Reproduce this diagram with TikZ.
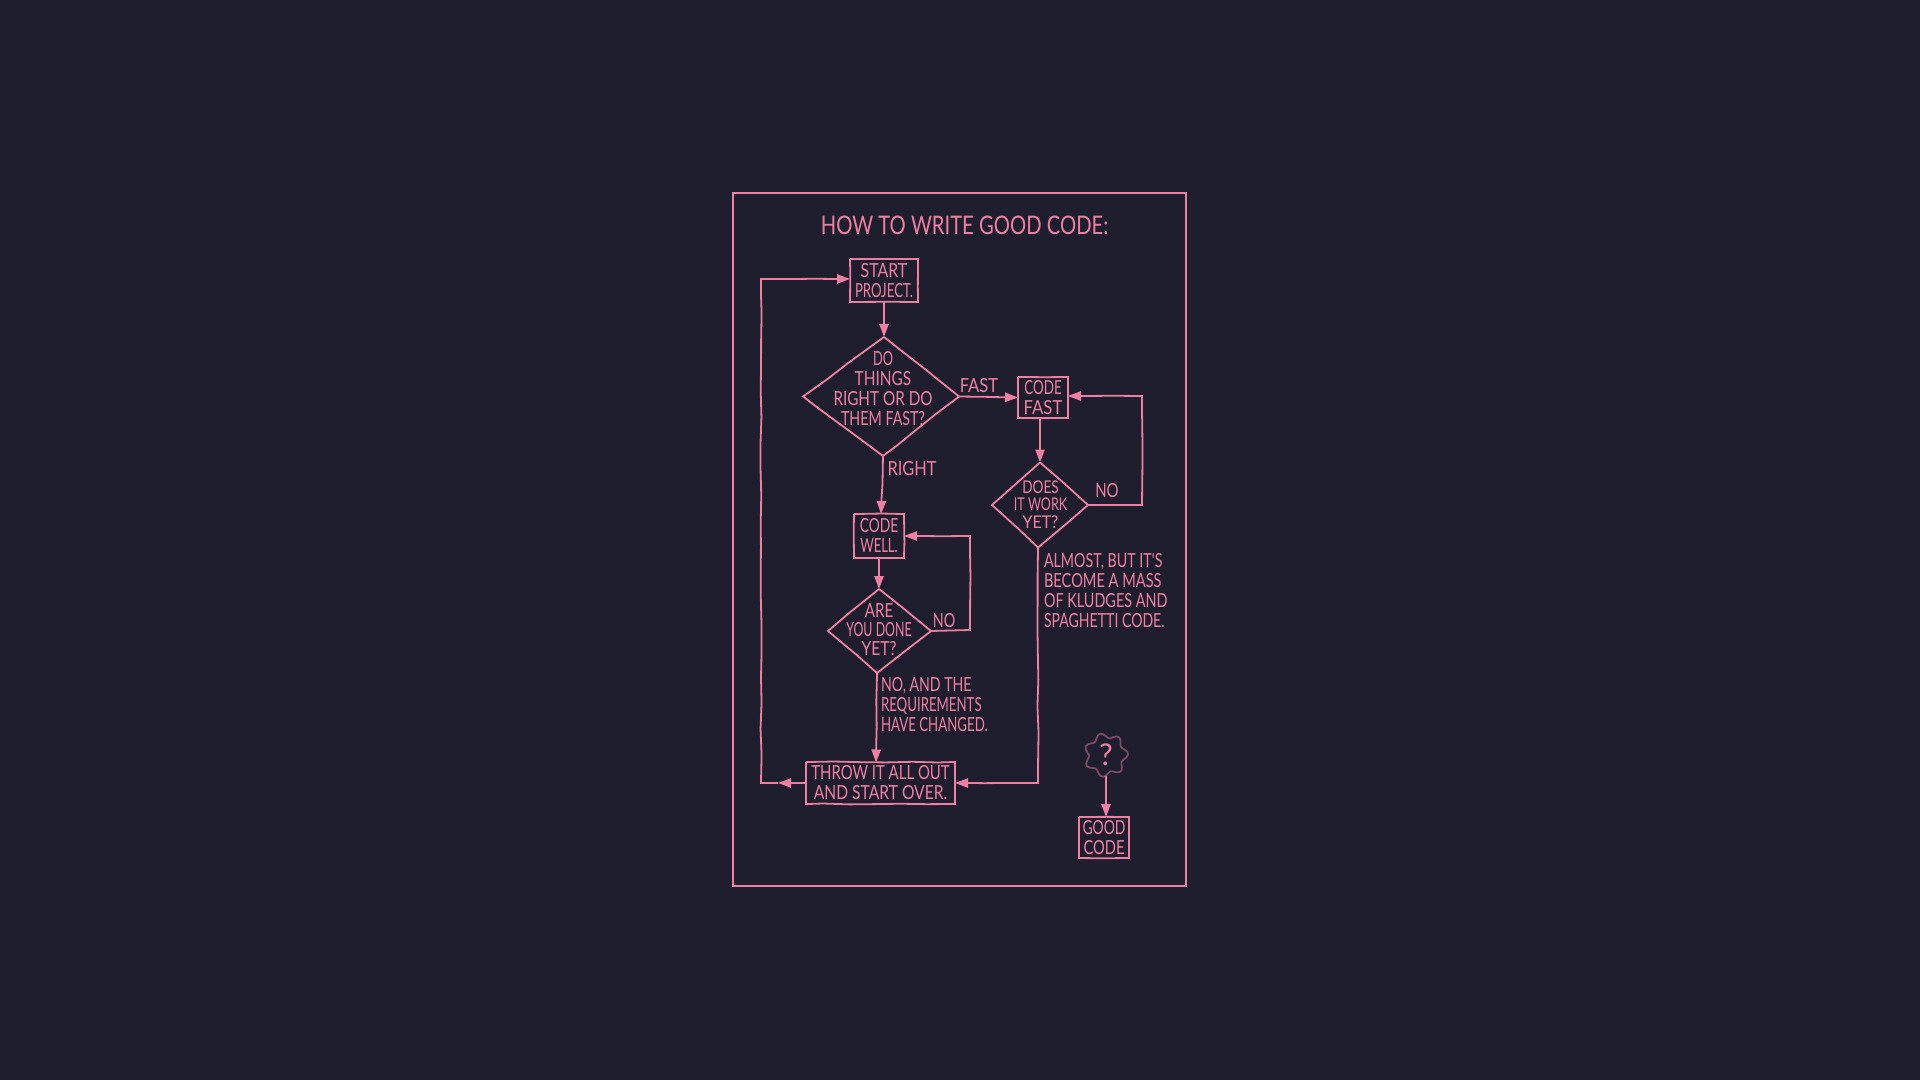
\documentclass[tikz,border=0pt]{standalone}
\usepackage{fontspec}
\usepackage{graphicx}
\usetikzlibrary{shapes.geometric,arrows.meta,decorations.pathmorphing}
\newfontfamily\hand{Lato}
\definecolor{bgcol}{HTML}{1E1E2E}
\definecolor{ink}{HTML}{F07FA3}
\definecolor{dimink}{HTML}{7F4C68}
% a line of lettering set to a measured width (in pt), natural height
\newcommand{\fl}[2]{\resizebox{#1pt}{\height}{#2}}
\newcommand{\sketchbox}[1]{\draw[wire] (#1.north west) decorate{-- (#1.north east)} decorate{-- (#1.south east)} decorate{-- (#1.south west)} decorate{-- (#1.north west)};}
% a diamond whose top and bottom points lean a little to the right or left
\newcommand{\sketchdiamond}[3]{%
  \coordinate (#1top) at ([xshift=#2pt]#1.north);
  \coordinate (#1bot) at ([xshift=#3pt]#1.south);
  \draw[wire] (#1top) decorate{-- (#1.east)} decorate{-- (#1bot)} decorate{-- (#1.west)} decorate{-- (#1top)};}
\tikzset{
  wire/.style={draw=ink,line width=.9pt,line join=miter,
    decoration={random steps,segment length=13pt,amplitude=.3pt,pre length=1pt,post length=1pt}},
  flow/.style={wire,-{Triangle[length=6.5pt,width=4.6pt]},
    decoration={random steps,segment length=13pt,amplitude=.3pt,pre length=1pt,post length=8pt}},
  lettering/.style={text=ink,font=\hand\fontsize{9.7}{10}\selectfont,inner sep=0pt,outer sep=0pt,align=center},
  smalllettering/.style={lettering,font=\hand\fontsize{8.8}{8.6}\selectfont},
  leftlettering/.style={lettering,align=left},
  boxnode/.style={lettering,rectangle,inner sep=0pt},
  decision/.style={diamond,inner sep=0pt,outer sep=0pt,aspect=1},
}
\begin{document}
\begin{tikzpicture}[x=.5pt,y=-.5pt]
\pgfmathsetseed{11}
\path[use as bounding box,fill=bgcol] (0,0) rectangle (1920,1080);
% frame
\node[draw=ink,line width=.9pt,rectangle,minimum width=226.5pt,minimum height=346.5pt,inner sep=0pt,outer sep=0pt] (frame) at (959.5,539.5) {};
% title
\node[lettering,font=\hand\fontsize{12.8}{14}\selectfont] (title) at (964.5,225) {\fl{143.7}{HOW TO WRITE GOOD CODE:}};
% boxes
\node[boxnode,minimum width=34pt,minimum height=21.5pt] (start) at (884,280.5) {\fl{23.3}{START}\\\fl{29}{PROJECT.}};
\node[boxnode,minimum width=25pt,minimum height=20.5pt] (cf) at (1043,397.5) {\fl{18.7}{CODE}\\\fl{19.3}{FAST}};
\node[boxnode,minimum width=25pt,minimum height=22pt] (cw) at (879,536) {\fl{19.2}{CODE}\\\fl{18.7}{WELL.}};
\node[boxnode,minimum width=74.5pt,minimum height=21pt] (throw) at (880.5,783) {\fl{69.2}{THROW IT ALL OUT}\\\fl{66.7}{AND START OVER.}};
\node[boxnode,minimum width=25pt,minimum height=20.5pt] (good) at (1104,837.5) {\fl{21.5}{GOOD}\\\fl{20.5}{CODE}};
\foreach \b in {start,cf,cw,throw,good} {\sketchbox{\b}}
% decisions
\node[decision,minimum width=78pt,minimum height=59.5pt] (d1) at (881,396.5) {};
\node[lettering] (d1t) at (883,388.5) {\fl{10}{DO}\\\fl{28.3}{THINGS}\\\fl{49.5}{RIGHT OR DO}\\\fl{42}{THEM FAST?}};
\node[decision,minimum width=48pt,minimum height=42.5pt] (d2) at (1040,505) {};
\node[smalllettering] (d2t) at (1040.5,504.5) {\fl{18.2}{DOES}\\\fl{26.7}{IT WORK}\\\fl{17.8}{YET?}};
\node[decision,minimum width=51.5pt,minimum height=42pt] (d3) at (879.5,631) {};
\node[lettering,font=\hand\fontsize{9.7}{9.5}\selectfont] (d3t) at (879,629.5) {\fl{14.2}{ARE}\\\fl{32.7}{YOU DONE}\\\fl{17.5}{YET?}};
\sketchdiamond{d1}{1.5}{1}
\sketchdiamond{d2}{0}{-1}
\sketchdiamond{d3}{-.25}{-1.25}
% blob
\node[text=ink,font=\hand\fontsize{15}{16}\selectfont,circle,minimum size=21pt,inner sep=0pt,outer sep=0pt] (blob) at (1106,755) {?};
\draw[draw=dimink,line width=.85pt] plot[smooth cycle,samples=48,domain=0:352.5] ({1106+(19.5+2.6*cos(7*\x+20))*cos(\x)},{755+(19.5+2.6*cos(7*\x+20))*sin(\x)});
% labels
\node[lettering] (lfast) at (979,385.5) {\fl{19.2}{FAST}};
\node[lettering] (lright) at (912,468.5) {\fl{24.5}{RIGHT}};
\node[lettering] (lno1) at (1107,491) {\fl{11.7}{NO}};
\node[lettering] (lno2) at (944,621) {\fl{11.2}{NO}};
\node[leftlettering,anchor=west,font=\hand\fontsize{9.7}{9.8}\selectfont] (lreq) at (881,704.5) {\fl{45.3}{NO, AND THE}\\\fl{50.3}{REQUIREMENTS}\\\fl{53.3}{HAVE CHANGED.}};
\node[leftlettering,anchor=west] (lalm) at (1044,590.5) {\fl{59.2}{ALMOST, BUT IT'S}\\\fl{58.8}{BECOME A MASS}\\\fl{61.7}{OF KLUDGES AND}\\\fl{60.3}{SPAGHETTI CODE.}};
% corners of the connectors
\coordinate (c1) at (1142,505);
\coordinate (c2) at (1142,396);
\coordinate (c3) at (970,630);
\coordinate (c4) at (970,536);
\coordinate (c5) at (1038,783);
\coordinate (c6) at (761,783);
\coordinate (c7) at (761,279);
\coordinate (m1) at (778,783);
\coordinate (t1) at (881,514);
\coordinate (t2) at (876,762.5);
% connectors
\draw[flow] (start.south) decorate{-- (d1top)};
\draw[flow] (d1.east) decorate{-- (cf.west)};
\draw[flow] (d1bot) decorate{-- (t1)};
\draw[flow] (cf.south -| d2top) decorate{-- (d2top)};
\draw[flow] (d2.east) decorate{-- (c1)} decorate{-- (c2)} decorate{-- (c2 -| cf.east)};
\draw[flow] (cw.south) decorate{-- (d3top)};
\draw[flow] (d3.east) decorate{-- (c3)} decorate{-- (c4)} decorate{-- (cw.east)};
\draw[flow] (d3bot) decorate{-- (t2)};
\draw[flow] (d2bot) decorate{-- (c5)} decorate{-- (c5 -| throw.east)};
\draw[flow] (throw.west) -- (m1);
\draw[flow] (m1) decorate{-- (c6)} decorate{-- (c7)} decorate{-- (c7 -| start.west)};
\draw[flow] (blob.south) decorate{-- (blob.south |- good.north)};
\end{tikzpicture}
\end{document}
